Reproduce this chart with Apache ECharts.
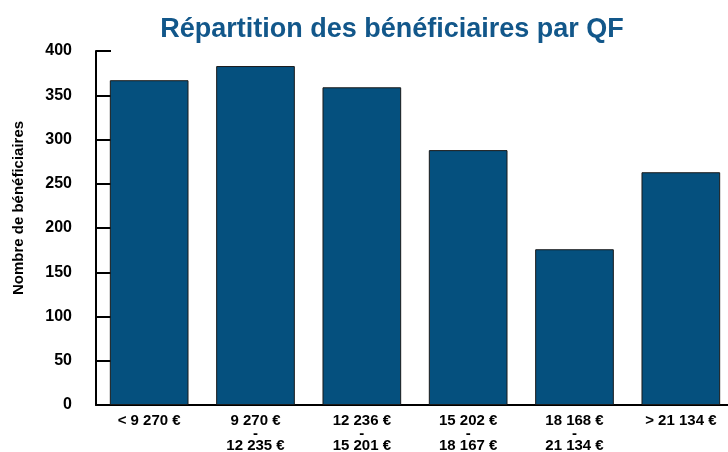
<!DOCTYPE html>
<html>
<head>
<meta charset="utf-8">
<script src="https://cdn.jsdelivr.net/npm/echarts@6/dist/echarts.min.js"></script>
<style>
  html, body { margin: 0; padding: 0; background: #fff; }
  #chart { width: 728px; height: 452px; }
</style>
</head>
<body>
<div id="chart"></div>
<script>
// tranches de QF
var categories = [
    '< 9 270 €',
    '9 270 €\n-\n12 235 €',
    '12 236 €\n-\n15 201 €',
    '15 202 €\n-\n18 167 €',
    '18 168 €\n-\n21 134 €',
    '> 21 134 €'
];
var beneficiaires = [367, 383, 359, 288, 176, 263];
var yTicks = [0, 50, 100, 150, 200, 250, 300, 350, 400];

var font = 'Liberation Sans, Arial, sans-serif';
var chart = echarts.init(document.getElementById('chart'), null, {renderer: 'canvas'});

var option = {
    animation: false,
    title: {
        text: 'Répartition des bénéficiaires par QF',
        left: 387,
        textAlign: 'center',
        top: 11,
        textStyle: {
            color: '#12578a',
            fontFamily: font,
            fontWeight: 'bold',
            fontSize: 27
        }
    },
    graphic: [{
        type: 'text',
        x: 19,
        y: 208,
        rotation: Math.PI / 2,
        style: {
            text: 'Nombre de bénéficiaires',
            fill: '#000',
            font: 'bold 15px ' + font,
            textAlign: 'center',
            textVerticalAlign: 'middle'
        }
    }],
    grid: {
        left: 96,
        top: 51,
        width: 638,
        height: 354,
        outerBoundsMode: 'none'
    },
    xAxis: {
        type: 'category',
        data: categories,
        axisLine: {lineStyle: {color: '#000', width: 2}},
        axisTick: {inside: true, length: 6, lineStyle: {color: '#000', width: 2}},
        axisLabel: {
            color: '#000',
            fontFamily: font,
            fontWeight: 'bold',
            fontSize: 15,
            lineHeight: 12.5,
            margin: 10,
            interval: 0
        }
    },
    yAxis: {
        type: 'value',
        min: 0,
        max: yTicks[yTicks.length - 1],
        interval: 50,
        splitLine: {show: false},
        axisLine: {show: true, lineStyle: {color: '#000', width: 2}},
        axisTick: {show: true, inside: true, length: 15, lineStyle: {color: '#000', width: 2}},
        axisLabel: {
            color: '#000',
            fontFamily: font,
            fontWeight: 'bold',
            fontSize: 16,
            margin: 24
        }
    },
    series: [{
        type: 'bar',
        data: beneficiaires,
        barCategoryGap: '26%',
        itemStyle: {
            color: '#05507e',
            borderColor: '#1a1a1a',
            borderWidth: 1
        }
    }]
};

chart.setOption(option);
</script>
</body>
</html>
